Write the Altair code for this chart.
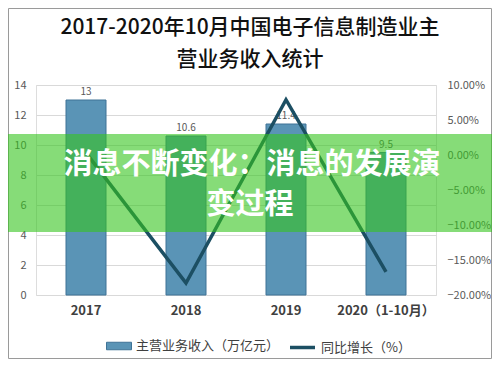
import altair as alt
import pandas as pd

categories = ["2017", "2018", "2019", "2020（1-10月）"]
revenue = [13, 10.6, 11.4, 9.5]
growth = [0.003, -0.183, 0.079, -0.167]
title_lines = ["2017-2020年10月中国电子信息制造业主", "营业务收入统计"]
series_bar = "主营业务收入（万亿元）"
series_line = "同比增长（%）"
band_lines = ["消息不断变化：消息的发展演", "变过程"]

FONT = "Noto Sans CJK SC"

df = pd.DataFrame({
    "cat": categories,
    "rev": revenue,
    "g": growth,
    "sb": [series_bar] * 4,
    "sl": [series_line] * 4,
})
one = pd.DataFrame({"k": [0]})

xenc = alt.X("cat:N", sort=categories, title=None,
             scale=alt.Scale(paddingInner=0.6, paddingOuter=0.3),
             axis=alt.Axis(labelAngle=0, labelFont=FONT, labelFontSize=13,
                           labelFontWeight="bold", labelColor="#404040",
                           labelPadding=9, ticks=False, domain=False, grid=False))

base = alt.Chart(df)

bars = base.mark_bar(stroke="#3f7396", strokeWidth=1).encode(
    x=xenc,
    y=alt.Y("rev:Q", title=None, scale=alt.Scale(domain=[0, 14]),
            axis=alt.Axis(orient="left", values=[0, 2, 4, 6, 8, 10, 12, 14],
                          labelFont=FONT, labelFontSize=11, labelColor="#595959",
                          labelPadding=10, ticks=False, domain=False,
                          grid=True, gridColor="#d9d9d9")),
    fill=alt.Fill("sb:N", scale=alt.Scale(range=["#5a94b6"]),
                  legend=alt.Legend(title=None, orient="none", legendX=70, legendY=248,
                                    symbolType="M-1,-0.3H1V0.3H-1Z", symbolSize=625,
                                    symbolStrokeColor="#3f7396", symbolStrokeWidth=1,
                                    labelFont=FONT, labelFontSize=13, labelColor="#404040",
                                    labelOffset=4)),
)

labels = base.mark_text(dy=-8, font=FONT, fontSize=10, color="#595959").encode(
    x=alt.X("cat:N", sort=categories),
    y=alt.Y("rev:Q", scale=alt.Scale(domain=[0, 14]), axis=None),
    text=alt.Text("rev:Q"),
)

line = base.mark_line(strokeWidth=3.5).encode(
    x=alt.X("cat:N", sort=categories),
    y=alt.Y("g:Q", title=None, scale=alt.Scale(domain=[-0.2, 0.1]),
            axis=alt.Axis(orient="right", values=[-0.2, -0.15, -0.1, -0.05, 0, 0.05, 0.1],
                          format=".2%", labelFont=FONT, labelFontSize=11,
                          labelColor="#595959", labelPadding=11, ticks=False,
                          domain=False, grid=False)),
    stroke=alt.Stroke("sl:N", scale=alt.Scale(range=["#1c4f63"]),
                      legend=alt.Legend(title=None, orient="none", legendX=252, legendY=248,
                                        symbolType="stroke", symbolSize=625,
                                        symbolStrokeWidth=3.5,
                                        labelFont=FONT, labelFontSize=13, labelColor="#404040",
                                        labelOffset=4)),
)

frame = alt.Chart(one).mark_rect(fill=None, stroke="#9a9a9a", strokeWidth=1).encode(
    x=alt.value(-27.5), x2=alt.value(455.5), y=alt.value(-76.5), y2=alt.value(273.5)
)

title1 = alt.Chart(pd.DataFrame({"t": [title_lines[0]]})).mark_text(
    font=FONT, fontSize=21, fontWeight=500, color="#111111", baseline="middle", align="center"
).encode(x=alt.value(214), y=alt.value(-57), text="t:N")
title2 = alt.Chart(pd.DataFrame({"t": [title_lines[1]]})).mark_text(
    font=FONT, fontSize=21, fontWeight=500, color="#111111", baseline="middle", align="center"
).encode(x=alt.value(214), y=alt.value(-25), text="t:N")

band = alt.Chart(one).mark_rect(fill="#35c51e", fillOpacity=0.6).encode(
    x=alt.value(-28), x2=alt.value(456), y=alt.value(49), y2=alt.value(147)
)

t1 = alt.Chart(pd.DataFrame({"t": [band_lines[0]]})).mark_text(
    font=FONT, fontSize=29, fontWeight="bold", color="white", baseline="middle", align="center"
).encode(x=alt.value(216), y=alt.value(80), text="t:N")
t2 = alt.Chart(pd.DataFrame({"t": [band_lines[1]]})).mark_text(
    font=FONT, fontSize=29, fontWeight="bold", color="white", baseline="middle", align="center"
).encode(x=alt.value(214), y=alt.value(120), text="t:N")

chart = alt.layer(frame, title1, title2, bars, labels, line, band, t1, t2).resolve_scale(
    y="independent"
).properties(
    width=400, height=210,
    padding={"left": 28, "top": 77, "right": 56, "bottom": 64},
    autosize=alt.AutoSizeParams(type="none"),
).configure_view(stroke=None).configure(background="white")

chart.save("out.html", embed_options={"renderer": "svg", "actions": False})
